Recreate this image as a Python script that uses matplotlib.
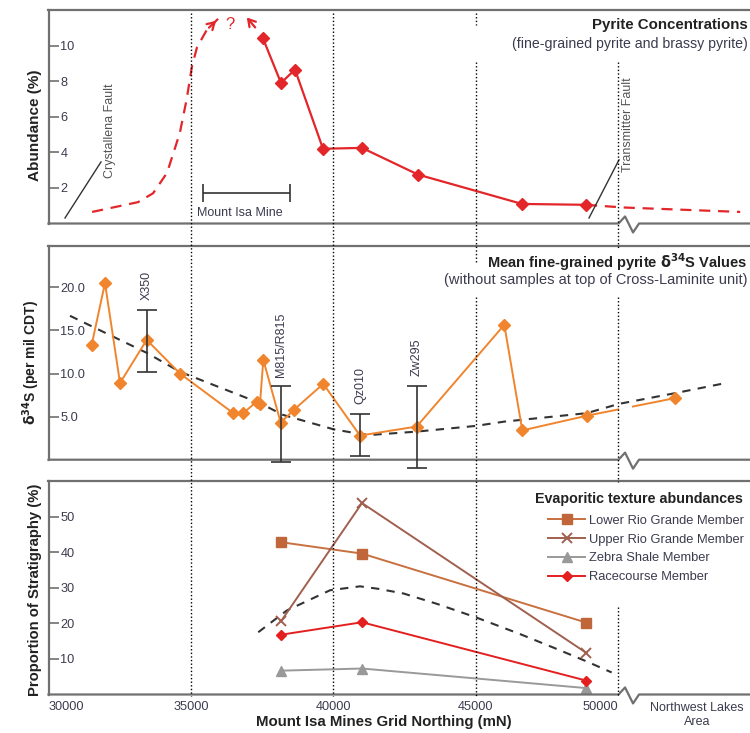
import matplotlib
matplotlib.use('Agg')
import matplotlib.pyplot as plt
from matplotlib import transforms
from matplotlib.patches import Rectangle

plt.rcParams['font.family'] = ['Liberation Sans', 'DejaVu Sans']

RED = '#e3262a'
ORANGE = '#f0852d'
TXT = '#3b3b4f'
SPINE = '#707070'

# --- pyrite concentrations (top panel)
pyr_x = [37526, 38158, 38649, 39632, 41000, 42965, 46614, 48860]
pyr_y = [10.4, 7.9, 8.65, 4.2, 4.25, 2.75, 1.1, 1.05]
pyr_guess_x = [31530, 33140, 33670, 34160, 34610, 34850, 35030, 35210, 35560, 35950]
pyr_guess_y = [0.65, 1.2, 1.7, 2.85, 5.1, 7.0, 8.8, 9.9, 10.9, 11.5]
pyr_arrow2_x = [37316, 36895]
pyr_arrow2_y = [10.9, 11.7]
pyr_tail_x = [48860, 50170, 54270]
pyr_tail_y = [1.05, 0.9, 0.65]
mine_x = [35423, 38474]
mine_y = 1.72
crystallena_x = [30579, 31842]
crystallena_y = [0.31, 3.46]
transmitter_x = [48965, 50018]
transmitter_y = [0.31, 3.58]

# --- mean d34S (middle panel)
d34s_x = [31516, 31982, 32509, 33446, 34614, 36484, 36835, 37305, 37421, 37537,
          38147, 38614, 39642, 40930, 42919, 45993, 46625, 48884, 51982]
d34s_y = [13.35, 20.5, 8.9, 13.9, 10.0, 5.4, 5.4, 6.75, 6.5, 11.6,
          4.3, 5.8, 8.8, 2.8, 3.85, 15.65, 3.4, 5.1, 7.15]
eb_x = [33446, 38147, 40930, 42919]
eb_mid = [13.9, 4.3, 2.8, 3.85]
eb_lo = [10.15, -0.3, 0.45, -0.95]
eb_hi = [17.4, 8.5, 5.3, 8.6]
eb_labels = ['X350', 'M815/R815', 'Qz010', 'Zw295']
d34s_trend_x = [30754, 33446, 34614, 37421, 38228, 40000, 40930, 41281,
                42919, 44989, 45993, 48884, 50018, 51982, 53737]
d34s_trend_y = [16.7, 12.4, 10.2, 6.56, 5.2, 3.53, 2.99, 2.87,
                3.26, 3.92, 4.42, 5.4, 6.48, 7.72, 8.88]

# --- evaporitic textures (bottom panel)
evap_x = [38160, 41000, 48870]
lower_rg = [42.8, 39.6, 20.2]
upper_rg = [20.6, 53.8, 11.7]
zebra = [6.7, 7.3, 1.8]
race = [16.8, 20.3, 3.9]
evap_trend_x = [37360, 38360, 39880, 40930, 41570, 42450, 43620, 44990, 46540, 47710, 48880, 49760]
evap_trend_y = [17.5, 23.6, 29.3, 30.4, 29.7, 28.4, 25.5, 21.7, 17.0, 13.2, 9.3, 6.2]

xticks = [30000, 35000, 40000, 45000, 50000]
vline_x = [35000, 40000, 45000, 50000]
# pixel spans (from top of figure) of the dotted grid lines
vline_spans = [[(13, 696)], [(13, 696)],
               [(13, 25), (62, 263), (297, 696)],
               [(62, 248), (297, 482), (607, 696)]]

W, H = 750, 733
fig = plt.figure(figsize=(W / 100, H / 100), dpi=100)


def px_axes(top, bottom, left=48.5, right=761):
    return [left / W, 1 - bottom / H, (right - left) / W, (bottom - top) / H]


ax1 = fig.add_axes(px_axes(10, 223.5))
ax2 = fig.add_axes(px_axes(246, 459.7))
ax3 = fig.add_axes(px_axes(481, 694.5))


def style(ax, ylim, yticks, ylabels):
    ax.set_xlim(30000, 55000)
    ax.set_ylim(*ylim)
    ax.set_facecolor('none')
    for s in ['left', 'top']:
        ax.spines[s].set_color(SPINE)
        ax.spines[s].set_linewidth(1.6)
    ax.spines['right'].set_visible(False)
    ax.spines['bottom'].set_visible(False)
    ax.set_yticks(yticks)
    ax.set_yticklabels(ylabels)
    ax.tick_params(axis='y', direction='in', length=7, width=1.2, color=SPINE,
                   pad=-8.5, labelsize=9.2, labelcolor=TXT)
    plt.setp(ax.get_yticklabels(), ha='left')
    # bottom spine with a break symbol after 50000
    tr = transforms.blended_transform_factory(ax.transData, ax.transAxes)
    ax.plot([30000, 50000, 50230, 50510, 50720, 55000], [0, 0, 0.033, -0.042, 0, 0],
            color=SPINE, lw=1.6, transform=tr, clip_on=False, zorder=5)


style(ax1, (0, 12), [2, 4, 6, 8, 10], ['2', '4', '6', '8', '10'])
style(ax2, (0, 24.8), [5, 10, 15, 20], ['5.0', '10.0', '15.0', '20.0'])
style(ax3, (0, 60), [10, 20, 30, 40, 50], ['10', '20', '30', '40', '50'])
for ax in (ax1, ax2):
    ax.tick_params(axis='x', bottom=False, labelbottom=False)
ax3.set_xticks(xticks)
ax3.set_xticklabels([str(v) for v in xticks])
ax3.tick_params(axis='x', length=0, pad=5, labelsize=9.2, labelcolor=TXT)
xl = ax3.get_xticklabels()
xl[0].set_ha('left')
xl[-1].set_ha('right')

# dotted grid lines running through all panels
ftr = transforms.blended_transform_factory(ax3.transData, fig.transFigure)
for x, spans in zip(vline_x, vline_spans):
    for y0, y1 in spans:
        fig.add_artist(plt.Line2D([x, x], [1 - y0 / H, 1 - y1 / H], transform=ftr,
                                  color='black', lw=1, linestyle=(0, (1, 1.6)), zorder=1))

# ---------- top panel
ax1.plot(pyr_x, pyr_y, color=RED, lw=1.6, marker='D', ms=6.5, zorder=4)
ax1.plot(pyr_guess_x, pyr_guess_y, color=RED, lw=1.6, dashes=(5, 3.5))
ax1.annotate('', xy=(pyr_guess_x[-1], pyr_guess_y[-1]), xytext=(pyr_guess_x[-2], pyr_guess_y[-2]),
             arrowprops=dict(arrowstyle='->,head_length=0.5,head_width=0.3', color=RED, lw=1.6))
ax1.annotate('', xy=(pyr_arrow2_x[1], pyr_arrow2_y[1]), xytext=(pyr_arrow2_x[0], pyr_arrow2_y[0]),
             arrowprops=dict(arrowstyle='->,head_length=0.5,head_width=0.3', color=RED, lw=1.6))
ax1.text(36370, 11.2, '?', color=RED, fontsize=12, ha='center', va='center')
ax1.plot(pyr_tail_x, pyr_tail_y, color=RED, lw=1.6, dashes=(5, 3.5))

ax1.errorbar([sum(mine_x) / 2], [mine_y], xerr=[(mine_x[1] - mine_x[0]) / 2],
             fmt='none', ecolor='#333333', elinewidth=1.2, capsize=6.5, capthick=1.2)
ax1.text(sum(mine_x) / 2 - 250, 0.58, 'Mount Isa Mine', fontsize=9, color=TXT, ha='center', va='center')

ax1.plot(crystallena_x, crystallena_y, color='#333333', lw=1)
ax1.text(32160, 5.2, 'Crystallena Fault', rotation=90, fontsize=9, color='#555555',
         ha='center', va='center')
ax1.plot(transmitter_x, transmitter_y, color='#333333', lw=1)
ax1.text(50340, 5.55, 'Transmitter Fault', rotation=90, fontsize=9, color='#555555',
         ha='center', va='center')

ax1.text(0.981, 0.93, 'Pyrite Concentrations', transform=ax1.transAxes, ha='right', va='center',
         fontsize=10.8, fontweight='bold', color='#222222')
ax1.text(0.981, 0.84, '(fine-grained pyrite and brassy pyrite)', transform=ax1.transAxes,
         ha='right', va='center', fontsize=10.2, color=TXT)
ax1.set_ylabel('Abundance (%)', fontsize=11, fontweight='bold', color='#222222')
ax1.yaxis.set_label_coords(-0.009, 0.461)

# ---------- middle panel
ax2.plot(d34s_trend_x, d34s_trend_y, color='#333333', lw=1.5, dashes=(4, 3.5), zorder=3)
ax2.plot(d34s_x[:-1], d34s_y[:-1], color=ORANGE, lw=1.4, zorder=4)
# last segment is interrupted at the axis break
for x0, x1 in [(30000, 50030), (50460, 55000)]:
    seg, = ax2.plot(d34s_x[-2:], d34s_y[-2:], color=ORANGE, lw=1.4, zorder=4)
    seg.set_clip_path(Rectangle((x0, -5), x1 - x0, 40, transform=ax2.transData))
ax2.plot(d34s_x, d34s_y, linestyle='none', marker='D', ms=6.5, color=ORANGE, zorder=5)
ax2.errorbar(eb_x, eb_mid, yerr=[[m - l for m, l in zip(eb_mid, eb_lo)],
                                 [h - m for m, h in zip(eb_mid, eb_hi)]],
             fmt='none', ecolor='#333333', elinewidth=1.2, capsize=7, capthick=1.2,
             zorder=6, clip_on=False)
for x, h, lab in zip(eb_x, eb_hi, eb_labels):
    ax2.annotate(lab, (x, h), xytext=(0, 7), textcoords='offset points', rotation=90,
                 ha='center', va='bottom', fontsize=9, color=TXT)
ax2.text(0.981, 0.925, r'Mean fine-grained pyrite $\mathbf{\delta^{34}}$S Values',
         transform=ax2.transAxes, ha='right', va='center', fontsize=10.5, fontweight='bold',
         color='#222222')
ax2.text(0.981, 0.841, '(without samples at top of Cross-Laminite unit)', transform=ax2.transAxes,
         ha='right', va='center', fontsize=10.5, color=TXT)
ax2.set_ylabel(r'$\mathbf{\delta^{34}}$S (per mil CDT)', fontsize=10, fontweight='bold',
               color='#222222')
ax2.yaxis.set_label_coords(-0.009, 0.455)

# ---------- bottom panel
ax3.plot(evap_trend_x, evap_trend_y, color='#333333', lw=1.5, dashes=(4, 3.5), zorder=3)
ax3.plot(evap_x, lower_rg, color='#c8703f', lw=1.4, marker='s', ms=7, mfc='#c0663a',
         mec='#c0663a', label='Lower Rio Grande Member', zorder=4)
ax3.plot(evap_x, upper_rg, color='#a0604f', lw=1.4, marker='x', ms=7, mew=1.4,
         label='Upper Rio Grande Member', zorder=4)
ax3.plot(evap_x, zebra, color='#999999', lw=1.4, marker='^', ms=7,
         label='Zebra Shale Member', zorder=4)
ax3.plot(evap_x, race, color='#e3201f', lw=1.4, marker='D', ms=5.5,
         label='Racecourse Member', zorder=4)
ax3.text(0.683, 0.915, 'Evaporitic texture abundances', transform=ax3.transAxes,
         ha='left', va='center', fontsize=10.3, fontweight='bold', color='#222222')
leg = ax3.legend(loc='upper left', bbox_to_anchor=(0.701, 0.842), frameon=False,
                 borderpad=0, borderaxespad=0, handlelength=2.9, handletextpad=0.3,
                 labelspacing=0.52, fontsize=9.3)
for t in leg.get_texts():
    t.set_color(TXT)
ax3.set_ylabel('Proportion of Stratigraphy (%)', fontsize=10.7, fontweight='bold', color='#222222')
ax3.yaxis.set_label_coords(-0.009, 0.49)
ax3.set_xlabel('Mount Isa Mines Grid Northing (mN)', fontsize=10.8, fontweight='bold',
               color='#222222')
ax3.xaxis.set_label_coords(0.471, -0.097)
tr3 = transforms.blended_transform_factory(ax3.transData, ax3.transAxes)
ax3.text(52750, -0.035, 'Northwest Lakes\nArea', transform=tr3, ha='center', va='top',
         fontsize=9, color=TXT, linespacing=1.2)

fig.savefig('out.png', dpi=100)
